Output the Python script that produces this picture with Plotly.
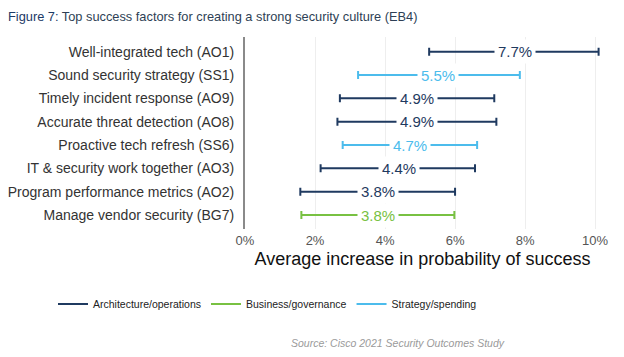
import plotly.graph_objects as go

factors = [
    "Well-integrated tech (AO1)",
    "Sound security strategy (SS1)",
    "Timely incident response (AO9)",
    "Accurate threat detection (AO8)",
    "Proactive tech refresh (SS6)",
    "IT & security work together (AO3)",
    "Program performance metrics (AO2)",
    "Manage vendor security (BG7)",
]
groups = [
    "Architecture/operations",
    "Strategy/spending",
    "Architecture/operations",
    "Architecture/operations",
    "Strategy/spending",
    "Architecture/operations",
    "Architecture/operations",
    "Business/governance",
]
values = [7.7, 5.5, 4.9, 4.9, 4.7, 4.4, 3.8, 3.8]
ci_low = [5.26, 3.23, 2.71, 2.64, 2.79, 2.16, 1.58, 1.61]
ci_high = [10.1, 7.85, 7.12, 7.18, 6.63, 6.57, 6.0, 5.98]

x_ticks = [0, 2, 4, 6, 8, 10]
x_tick_labels = ["0%", "2%", "4%", "6%", "8%", "10%"]

legend_order = ["Architecture/operations", "Business/governance", "Strategy/spending"]
colors = {
    "Architecture/operations": "#1f3a60",
    "Business/governance": "#78c142",
    "Strategy/spending": "#4cbcec",
}
FONT = "Liberation Sans, Arial, sans-serif"

fig = go.Figure()

for g in legend_order:
    idx = [i for i, gg in enumerate(groups) if gg == g]
    xs = [values[i] for i in idx]
    ys = [factors[i] for i in idx]
    plus = [ci_high[i] - values[i] for i in idx]
    minus = [values[i] - ci_low[i] for i in idx]
    fig.add_trace(go.Scatter(
        x=xs, y=ys, mode="markers",
        marker=dict(size=1, color="rgba(0,0,0,0)"),
        error_x=dict(type="data", symmetric=False, array=plus, arrayminus=minus,
                     color=colors[g], thickness=2, width=4),
        showlegend=False, hoverinfo="skip",
    ))
    fig.add_trace(go.Scatter(
        x=[None], y=[None], mode="lines", name=g,
        line=dict(color=colors[g], width=2),
    ))

for f, v, g in zip(factors, values, groups):
    fig.add_annotation(
        x=v, y=f, text=f"{v:.1f}%", showarrow=False,
        bgcolor="white", borderpad=3,
        font=dict(size=15, color=colors[g], family=FONT),
    )

W, H = 616, 349
L, T, B = 237, 29, 128
fig.add_annotation(
    xref="paper", yref="paper", x=(499 - L) / 355, y=-(335 - 221) / 192,
    xanchor="right", yanchor="middle",
    text="<i>Source: Cisco 2021 Security Outcomes Study</i>", showarrow=False,
    font=dict(size=10.5, color="#9a9a9a", family=FONT),
)

fig.update_layout(
    width=W, height=H,
    margin=dict(l=L, r=24, t=T, b=B, autoexpand=False),
    paper_bgcolor="white", plot_bgcolor="white",
    font=dict(family=FONT, color="#333333"),
    title=dict(
        text="<span style='color:#1c3a66'>Figure 7:</span> Top success factors for creating a strong security culture (EB4)",
        x=0, xref="container", xanchor="left",
        y=1 - 9 / H, yref="container", yanchor="middle",
        pad=dict(l=0, r=0, t=0, b=0),
        font=dict(size=12.8, color="#2e3f55", family=FONT),
    ),
    xaxis=dict(
        range=[0, 10.14], tickvals=x_ticks, ticktext=x_tick_labels,
        showgrid=True, gridcolor="#eeeeee", gridwidth=1, zeroline=False,
        showline=False, ticks="", ticklabelstandoff=2, automargin=False,
        tickfont=dict(size=13, color="#555555"),
        title=dict(text="Average increase in probability of success",
                   font=dict(size=18, color="#111111"), standoff=5),
    ),
    yaxis=dict(
        type="category", categoryorder="array", categoryarray=factors,
        range=[7.6, -0.63], showgrid=False, zeroline=False,
        showline=True, linecolor="#8a8a8a", linewidth=2,
        ticks="", ticklabelstandoff=6, automargin=False,
        tickfont=dict(size=14, color="#333333"),
    ),
    legend=dict(
        orientation="h", xref="paper", x=(45 - L) / 355, xanchor="left",
        yref="paper", y=-(296 - 221) / 192, yanchor="middle",
        font=dict(size=10.5, color="#222222"), traceorder="normal",
    ),
)

fig.write_html("out.html")
